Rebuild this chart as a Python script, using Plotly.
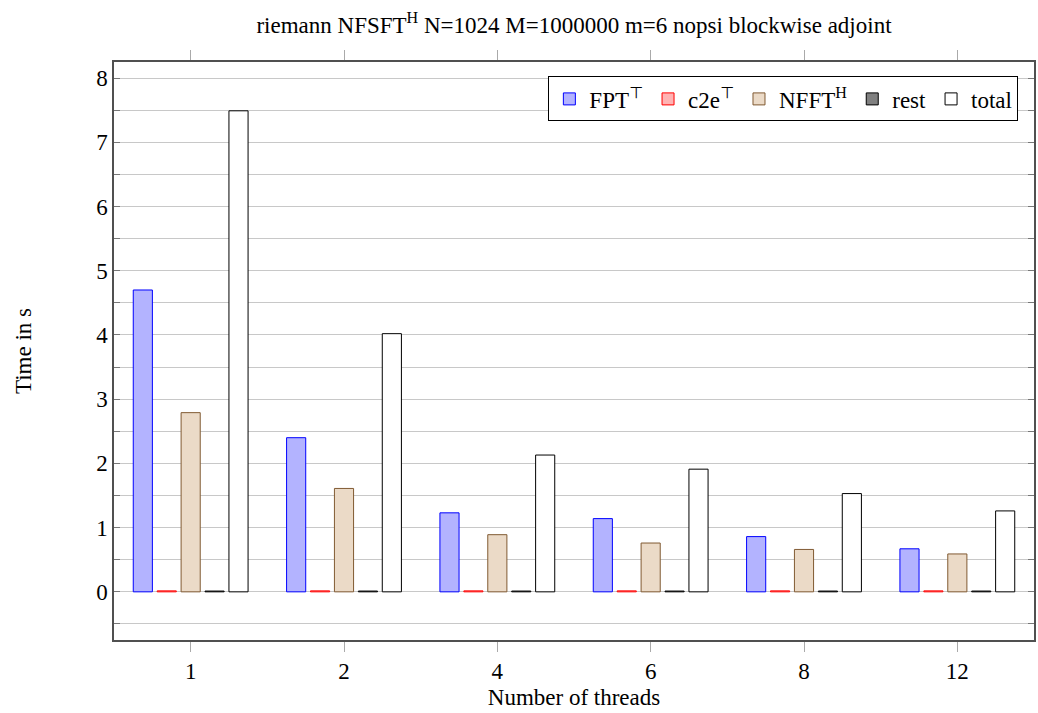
import plotly.graph_objects as go

threads = ["1", "2", "4", "6", "8", "12"]
fpt = [4.70, 2.40, 1.23, 1.14, 0.86, 0.67]
c2e = [0.015, 0.015, 0.015, 0.015, 0.015, 0.015]
nfft = [2.79, 1.61, 0.89, 0.76, 0.66, 0.59]
rest = [0.012, 0.012, 0.012, 0.012, 0.012, 0.012]
total = [7.49, 4.02, 2.13, 1.91, 1.53, 1.26]

T = '<span style="font-family:DejaVu Sans">⊤</span>'
series = [
    ("FPT<sup>" + T + "</sup>", fpt, "rgb(179,179,255)", "rgb(0,0,255)"),
    ("c2e<sup>" + T + "</sup>", c2e, "rgb(255,179,179)", "rgb(255,0,0)"),
    ("NFFT<sup>H</sup>", nfft, "rgb(235,218,199)", "rgb(128,90,50)"),
    ("rest", rest, "rgb(128,128,128)", "rgb(0,0,0)"),
    ("total", total, "rgb(255,255,255)", "rgb(0,0,0)"),
]

FONT = "Liberation Serif"
FS = 23
fig = go.Figure()
for name, vals, fill, line in series:
    fig.add_trace(go.Bar(x=threads, y=vals, name=name,
                         marker=dict(color=fill, line=dict(color=line, width=1))))

fig.update_layout(
    width=1038, height=713,
    margin=dict(l=114, r=2, t=62, b=73),
    paper_bgcolor="white", plot_bgcolor="white",
    font=dict(family=FONT, size=FS, color="black"),
    barmode="group", bargap=0.22, bargroupgap=0.2,
    title=dict(text="riemann NFSFT<sup>H</sup> N=1024 M=1000000 m=6 nopsi blockwise adjoint",
               x=0.5, xref="paper", xanchor="center", y=0.965, yanchor="middle",
               font=dict(family=FONT, size=FS)),
    legend=dict(orientation="h", x=0.983, xanchor="right", y=0.975, yanchor="top",
                bordercolor="black", borderwidth=1, bgcolor="white",
                font=dict(family=FONT, size=FS), itemwidth=30, traceorder="normal"),
    showlegend=True,
)
fig.update_xaxes(
    type="category", showline=True, linecolor="rgb(80,80,80)", linewidth=1.5, mirror="ticks",
    ticks="outside", ticklen=10, tickcolor="rgb(170,170,170)", showgrid=False,
    title=dict(text="Number of threads", standoff=6, font=dict(family=FONT, size=FS)),
    tickfont=dict(family=FONT, size=FS),
)
fig.update_yaxes(
    range=[-0.75, 8.25], dtick=1, tick0=0, showline=True, linecolor="rgb(80,80,80)", linewidth=1.5,
    mirror="ticks", ticks="inside", ticklen=6, tickcolor="rgb(120,120,120)",
    showgrid=True, gridcolor="rgb(200,200,200)", gridwidth=1, zeroline=False,
    minor=dict(dtick=0.5, ticks="inside", ticklen=6, tickcolor="rgb(120,120,120)",
               showgrid=True, gridcolor="rgb(200,200,200)"),
    title=dict(text="Time in s", standoff=58, font=dict(family=FONT, size=FS)),
    tickfont=dict(family=FONT, size=FS),
)
fig.write_html("out.html")
